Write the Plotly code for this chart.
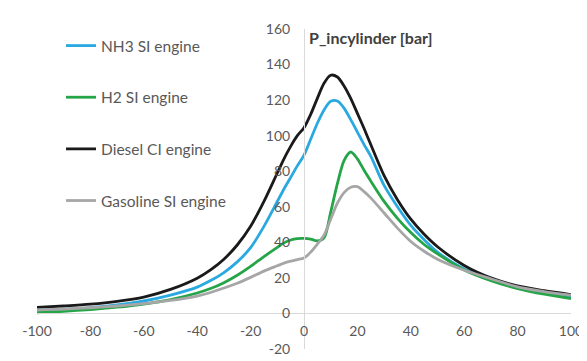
import plotly.graph_objects as go

ca = [-100, -90, -80, -70, -60, -50, -40, -35, -30, -25, -20, -15, -10, -7.5, -5, -2.5,
      0, 2.5, 5, 7.5, 10, 12.5, 15, 17.5, 20, 22.5, 25, 30, 35, 40, 45, 50, 60, 70, 80, 90, 100]

nh3 = [1.8, 2.4, 3.3, 4.8, 7.0, 10.3, 14.8, 18.5, 23.0, 29.0, 37.0, 49.0, 63.0, 70.0, 76.5, 83.0,
       89.0, 98.0, 107.0, 114.5, 119.3, 119.5, 115.5, 109.0, 102.0, 95.0, 88.5, 72.0, 60.0, 49.5, 41.5, 34.5, 25.0, 19.0, 14.5, 11.7, 9.5]

h2 = [0.4, 1.2, 2.2, 3.5, 5.3, 7.8, 11.5, 14.0, 17.3, 21.5, 26.5, 32.0, 37.2, 39.7, 41.3, 42.1,
      42.2, 41.8, 40.8, 42.5, 57.0, 73.0, 86.0, 90.8, 87.0, 80.5, 74.5, 63.0, 53.5, 45.5, 38.8, 33.5, 24.5, 18.5, 14.0, 10.8, 8.4]

diesel = [3.4, 4.2, 5.2, 6.8, 9.2, 13.5, 19.8, 24.5, 30.5, 38.5, 49.0, 63.0, 79.0, 87.0, 94.0, 100.0,
          104.5, 112.0, 121.0, 129.5, 134.0, 133.0, 128.0, 121.0, 112.5, 104.0, 95.0, 77.5, 64.0, 53.0, 44.5, 37.5, 27.0, 20.0, 15.5, 12.8, 10.6]

gasoline = [2.0, 2.5, 3.2, 4.2, 5.5, 7.3, 9.8, 11.8, 14.3, 17.0, 20.3, 23.8, 26.8, 28.3, 29.4, 30.3,
            31.2, 34.5, 39.0, 44.0, 53.0, 62.0, 68.0, 71.0, 71.3, 68.5, 65.0, 56.5, 48.0, 40.5, 35.0, 30.5, 24.3, 19.5, 15.0, 12.3, 10.3]

series = [
    ("NH3 SI engine", nh3, "#2AA9E0"),
    ("H2 SI engine", h2, "#25A548"),
    ("Diesel CI engine", diesel, "#1A1A1A"),
    ("Gasoline SI engine", gasoline, "#A6A6A6"),
]

x_ticks = list(range(-100, 101, 20))
y_ticks = list(range(-20, 161, 20))

FONT = "Lato, 'Open Sans', sans-serif"

fig = go.Figure()
for i, (name, vals, color) in enumerate(series):
    fig.add_trace(go.Scatter(
        x=ca, y=vals, name=name, mode="lines",
        line=dict(color=color, width=2.8, shape="spline", smoothing=0.8),
        legendgroup=str(i),
    ))

fig.update_layout(
    width=587, height=361,
    margin=dict(l=28.5, r=18.7, t=13, b=16.7),
    paper_bgcolor="white", plot_bgcolor="white",
    font=dict(family=FONT, size=14, color="#595959"),
    showlegend=True,
    legend=dict(
        x=0.045, y=1.0, xanchor="left", yanchor="top",
        bgcolor="rgba(0,0,0,0)", tracegroupgap=28.5,
        font=dict(family=FONT, size=15.5, color="#595959"),
        itemwidth=30,
    ),
    xaxis=dict(
        range=[-100, 100], tickvals=x_ticks, ticktext=[str(v) for v in x_ticks],
        showgrid=False, zeroline=False, showline=True, linecolor="#D9D9D9", linewidth=1,
        anchor="free", position=20 / 180, ticks="", ticklabelstandoff=5,
        tickfont=dict(family=FONT, size=14, color="#595959"),
    ),
    yaxis=dict(
        range=[-20, 160], tickvals=y_ticks, ticktext=[str(v) for v in y_ticks],
        showgrid=False, zeroline=False, showline=True, linecolor="#D9D9D9", linewidth=1,
        anchor="free", position=0.5, ticks="", ticklabelstandoff=11,
        tickfont=dict(family=FONT, size=14, color="#595959"),
    ),
    annotations=[
        dict(text="<b>P_incylinder [bar]</b>", x=0.5, xref="paper", y=155.5, yref="y",
             xanchor="left", yanchor="middle", xshift=3, showarrow=False,
             font=dict(family=FONT, size=16, color="#404040")),
        dict(text="<b>CA [CAD]</b>", x=0.5, xref="paper", y=-24.3, yref="y",
             xanchor="left", yanchor="middle", xshift=12, showarrow=False,
             font=dict(family=FONT, size=15, color="#404040")),
    ],
)

fig.write_html("out.html")
